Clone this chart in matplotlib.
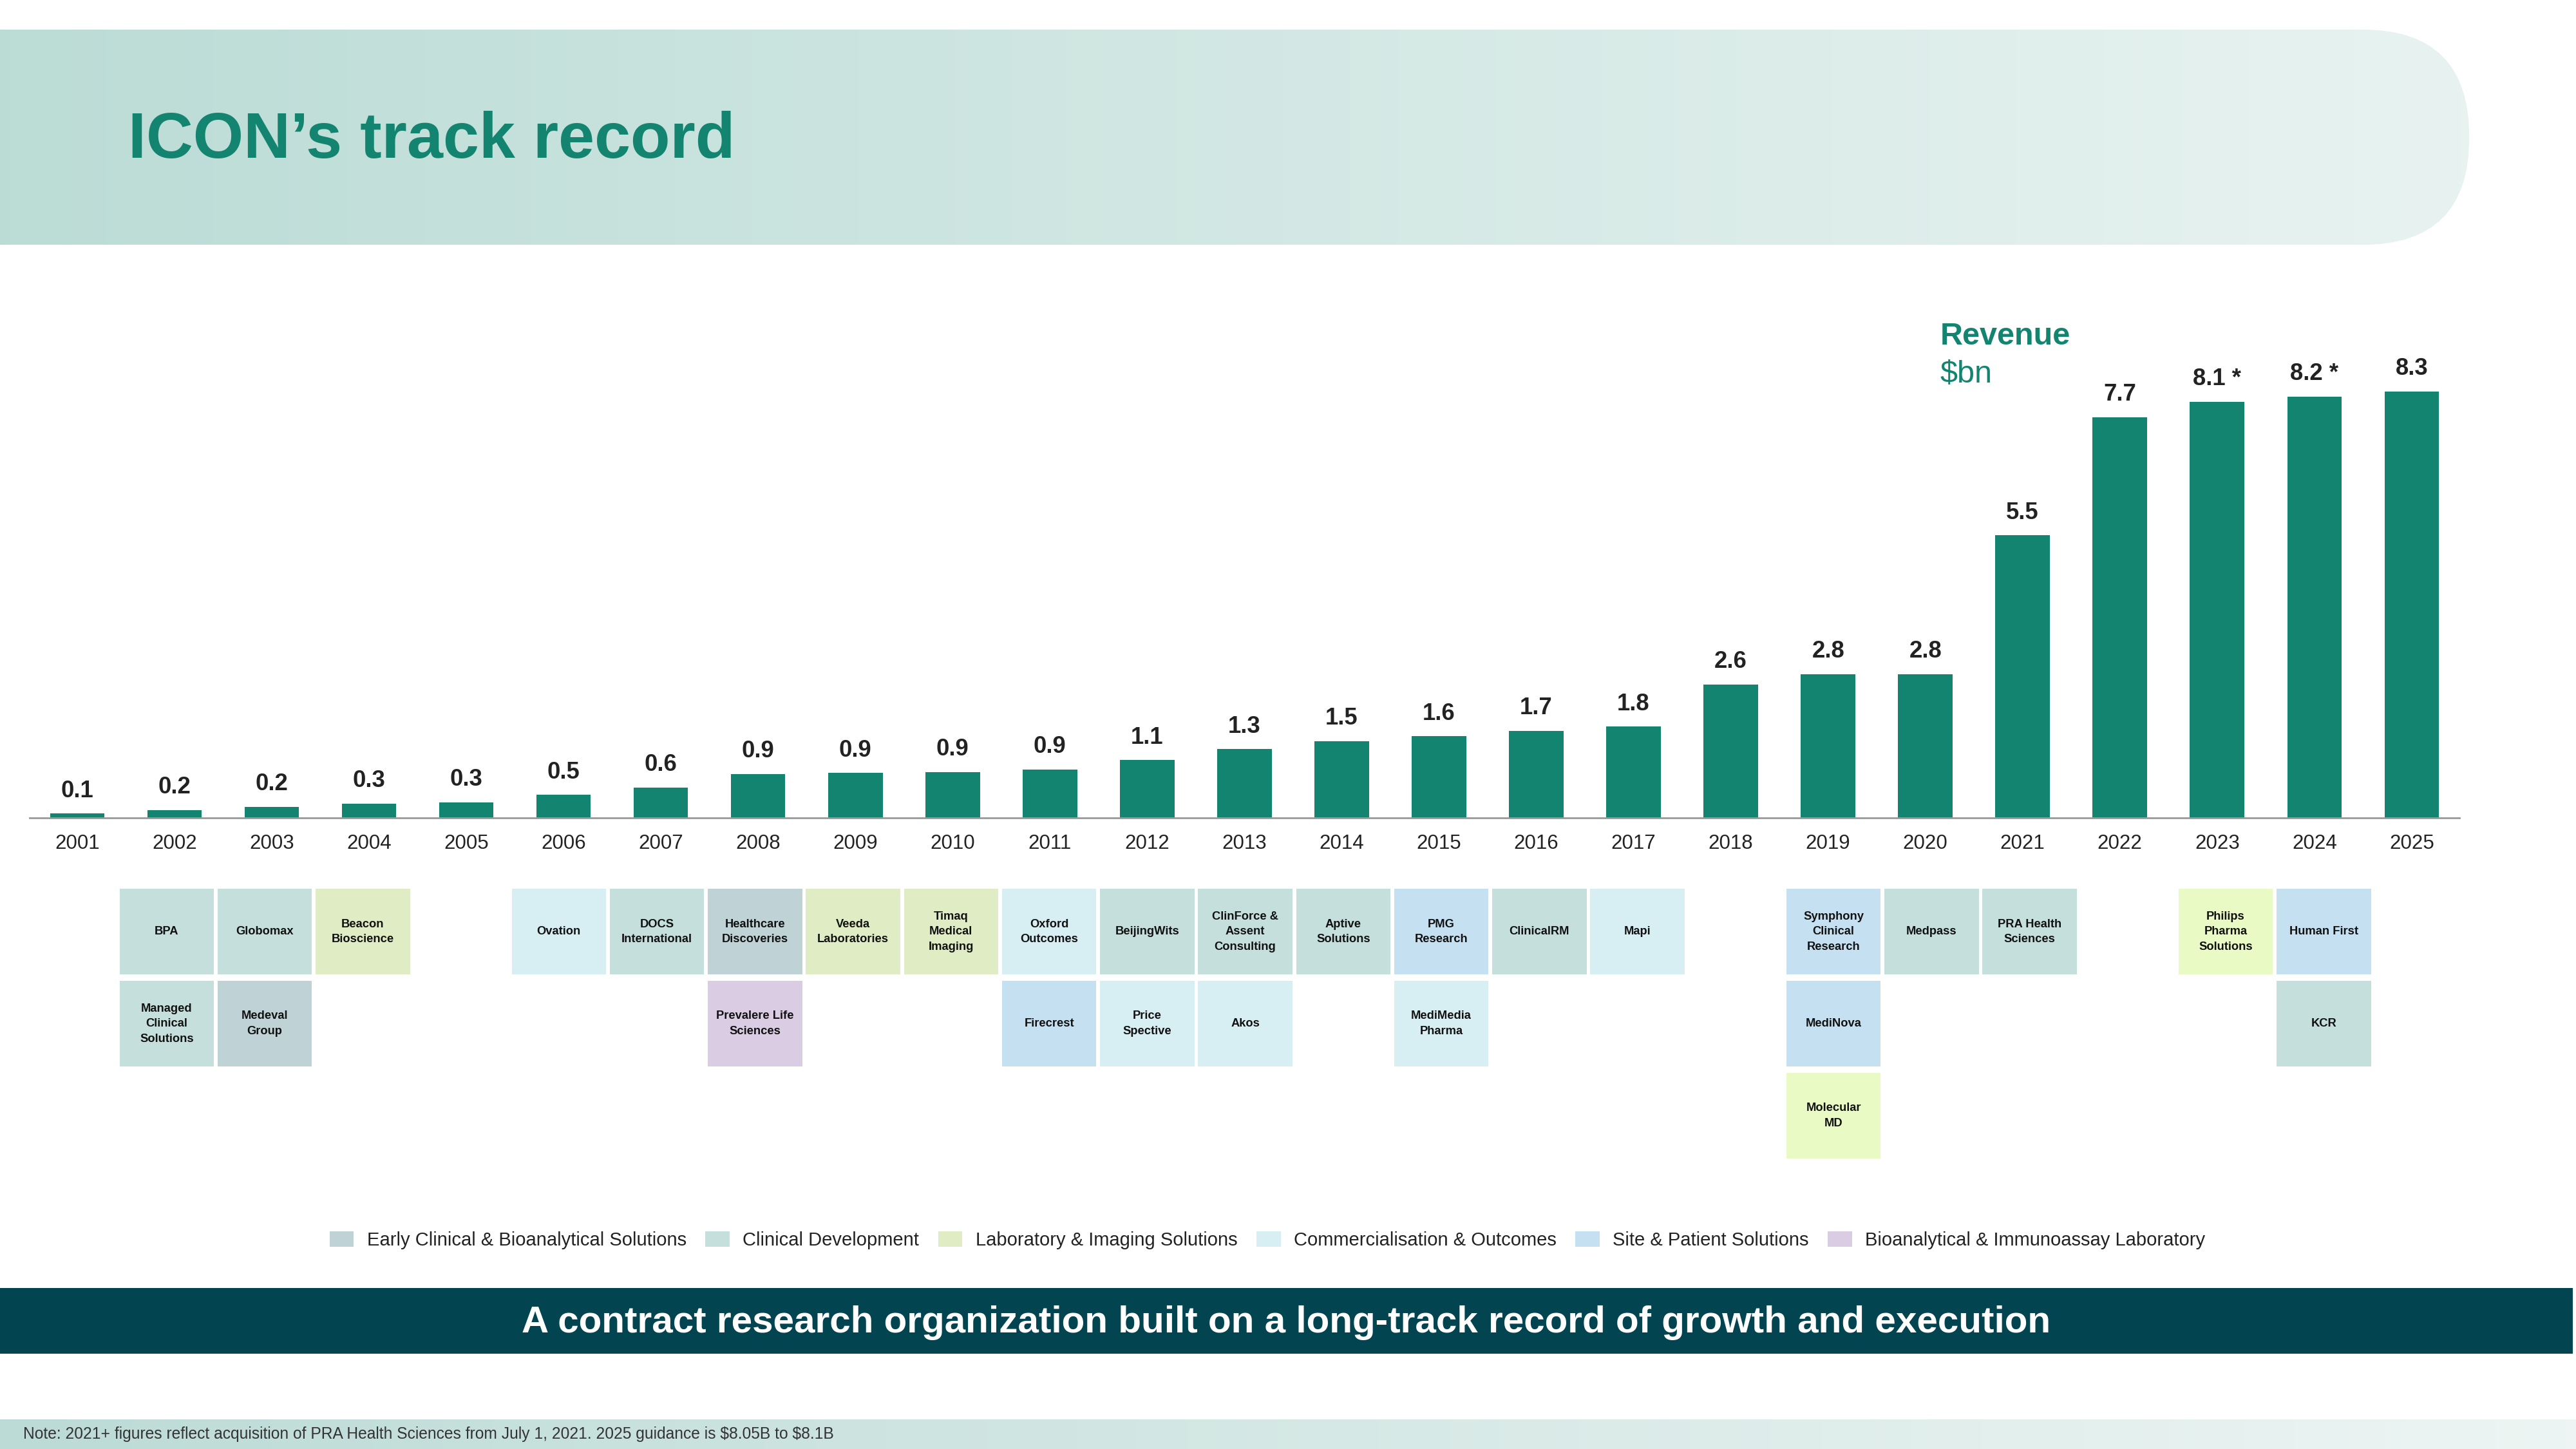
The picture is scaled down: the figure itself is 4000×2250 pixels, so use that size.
import matplotlib
matplotlib.use("Agg")
import matplotlib.pyplot as plt
import numpy as np
from matplotlib.patches import Rectangle, FancyBboxPatch

plt.rcParams['font.family'] = ['Liberation Sans', 'DejaVu Sans']

years = [str(y) for y in range(2001, 2026)]
heights = [0.09, 0.16, 0.22, 0.28, 0.31, 0.45, 0.6, 0.86, 0.88, 0.9, 0.95, 1.13, 1.34, 1.5, 1.59,
           1.7, 1.78, 2.6, 2.8, 2.8, 5.5, 7.8, 8.1, 8.2, 8.3]
labels = ["0.1", "0.2", "0.2", "0.3", "0.3", "0.5", "0.6", "0.9", "0.9", "0.9", "0.9", "1.1", "1.3",
          "1.5", "1.6", "1.7", "1.8", "2.6", "2.8", "2.8", "5.5", "7.7", "8.1 *", "8.2 *", "8.3"]

categories = ["Early Clinical & Bioanalytical Solutions", "Clinical Development",
              "Laboratory & Imaging Solutions", "Commercialisation & Outcomes",
              "Site & Patient Solutions", "Bioanalytical & Immunoassay Laboratory"]
cat_colors = ["#bfd3d6", "#c5e0dc", "#e0edc4", "#d7eef3", "#c5e1f1", "#d9cce3"]
bright_lab = "#eafac4"  # newer lab boxes are drawn a touch brighter

# (year, row, name, category index)
acquisitions = [
    (2002, 0, "BPA", 1), (2002, 1, "Managed\nClinical\nSolutions", 1),
    (2003, 0, "Globomax", 1), (2003, 1, "Medeval\nGroup", 0),
    (2004, 0, "Beacon\nBioscience", 2),
    (2006, 0, "Ovation", 3),
    (2007, 0, "DOCS\nInternational", 1),
    (2008, 0, "Healthcare\nDiscoveries", 0), (2008, 1, "Prevalere Life\nSciences", 5),
    (2009, 0, "Veeda\nLaboratories", 2),
    (2010, 0, "Timaq\nMedical\nImaging", 2),
    (2011, 0, "Oxford\nOutcomes", 3), (2011, 1, "Firecrest", 4),
    (2012, 0, "BeijingWits", 1), (2012, 1, "Price\nSpective", 3),
    (2013, 0, "ClinForce &\nAssent\nConsulting", 1), (2013, 1, "Akos", 3),
    (2014, 0, "Aptive\nSolutions", 1),
    (2015, 0, "PMG\nResearch", 4), (2015, 1, "MediMedia\nPharma", 3),
    (2016, 0, "ClinicalRM", 1),
    (2017, 0, "Mapi", 3),
    (2019, 0, "Symphony\nClinical\nResearch", 4), (2019, 1, "MediNova", 4),
    (2019, 2, "Molecular\nMD", 2),
    (2020, 0, "Medpass", 1),
    (2021, 0, "PRA Health\nSciences", 1),
    (2023, 0, "Philips\nPharma\nSolutions", 2),
    (2024, 0, "Human First", 4), (2024, 1, "KCR", 1),
]

W, H = 1568, 882
fig = plt.figure(figsize=(16, 9), dpi=250)
bg = fig.add_axes([0, 0, 1, 1])
bg.set_xlim(0, W)
bg.set_ylim(H, 0)
bg.axis("off")

# header band with gradient
grad = np.linspace(0, 1, 256).reshape(1, -1)
c0 = np.array([0.737, 0.863, 0.839])
c1 = np.array([0.91, 0.953, 0.945])
img = c0[None, None, :] * (1 - grad[..., None]) + c1[None, None, :] * grad[..., None]
im = bg.imshow(img, extent=(0, 1503, 149, 18), aspect="auto", zorder=0)
clip = FancyBboxPatch((-200, 18), 1703, 131, boxstyle="round,pad=0,rounding_size=65",
                      transform=bg.transData, facecolor="none", edgecolor="none")
bg.add_patch(clip)
im.set_clip_path(clip)
bg.text(78, 86, "ICON’s track record", fontsize=29, fontweight="bold", color="#138470",
        va="center", ha="left")

bg.text(1181, 205, "Revenue", fontsize=14, fontweight="bold", color="#138470", va="center")
bg.text(1181, 228, "$bn", fontsize=14, color="#138470", va="center")

# bottom banner
bg.add_patch(Rectangle((0, 784), 1566, 40, facecolor="#02444f", edgecolor="none"))
bg.text(783, 805, "A contract research organization built on a long-track record of growth and execution",
        fontsize=16.8, fontweight="bold", color="white", ha="center", va="center")

# note bar
c2 = np.array([0.74, 0.86, 0.84])
c3 = np.array([0.93, 0.96, 0.955])
img2 = c2[None, None, :] * (1 - grad[..., None]) + c3[None, None, :] * grad[..., None]
bg.imshow(img2, extent=(0, W, 882, 864), aspect="auto", zorder=0)
bg.text(14, 873, "Note: 2021+ figures reflect acquisition of PRA Health Sciences from July 1, 2021. "
        "2025 guidance is \\$8.05B to \\$8.1B", fontsize=7.1, color="#333333", va="center")

# bar chart
x = np.arange(len(years))
ax = fig.add_axes([18 / W, 1 - 498 / H, (1497 - 18) / W, (498 - 190) / H])
ax.set_xlim(-0.49, 24.49)
ax.set_ylim(0, 308 / 31.3)
ax.bar(x, heights, width=0.56, color="#12846f")
for xi, h, lab in zip(x, heights, labels):
    ax.text(xi, h + 0.22, lab, ha="center", va="bottom", fontsize=10.5, fontweight="bold",
            color="#222222")
ax.set_xticks(x)
ax.set_xticklabels(years, fontsize=9, color="#222222")
ax.tick_params(axis="x", length=0, pad=7)
ax.set_yticks([])
for s in ["top", "right", "left"]:
    ax.spines[s].set_visible(False)
ax.spines["bottom"].set_color("#999999")
ax.patch.set_alpha(0)

# acquisition boxes
bx = fig.add_axes([18 / W, 1 - 708 / H, (1497 - 18) / W, (708 - 541) / H])
bx.set_xlim(-0.49, 24.49)
bx.set_ylim(3.1, 0)
bx.axis("off")
for yr, row, name, ci in acquisitions:
    xi = int(yr) - 2001 + (int(yr) - 2012) * 0.008
    top = row * 1.04
    col = bright_lab if (ci == 2 and int(yr) >= 2019) else cat_colors[ci]
    bx.add_patch(Rectangle((xi - 0.485, top), 0.97, 0.97, facecolor=col, edgecolor="none"))
    bx.text(xi, top + 0.485, name, ha="center", va="center", fontsize=5.3, fontweight="bold",
            color="#111111", linespacing=1.5)

# legend
handles = [Rectangle((0, 0), 1, 1, facecolor=c, edgecolor="none") for c in cat_colors]
fig.legend(handles, categories, loc="center", bbox_to_anchor=(0.492, 1 - 755 / H), ncol=6,
           frameon=False, fontsize=8.4, handlelength=1.3, handleheight=0.9, columnspacing=1.0,
           handletextpad=0.7, labelcolor="#222222")

fig.savefig("out.png", dpi=250)
